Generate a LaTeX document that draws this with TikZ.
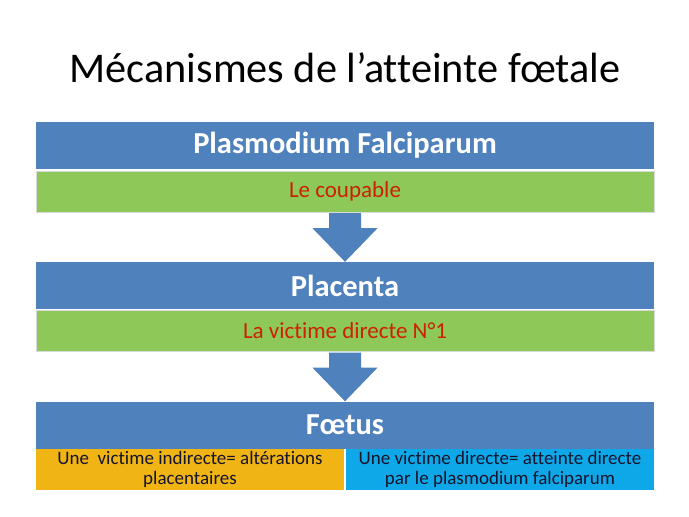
\documentclass[tikz,border=0pt]{standalone}
\usepackage{fontspec}
\setmainfont{Carlito}[Ligatures=NoCommon]
\usetikzlibrary{positioning,calc}
\definecolor{slideblue}{RGB}{79,129,189}
\definecolor{slidegreen}{RGB}{141,200,88}
\definecolor{slidered}{RGB}{204,34,0}
\definecolor{slideorange}{RGB}{240,180,21}
\definecolor{slidecyan}{RGB}{14,168,232}
\definecolor{slidetext}{RGB}{20,20,45}

\begin{document}
\begin{tikzpicture}[x=1pt,y=-1pt,
    headbar/.style={fill=slideblue, text=white, minimum width=618pt, minimum height=47pt,
      inner sep=0pt, font=\fontsize{30.5}{34}\selectfont\bfseries},
    rolebar/.style={fill=slidegreen, draw=white!85!black, text=slidered, minimum width=618pt,
      minimum height=41pt, inner sep=0pt, font=\fontsize{23}{27}\selectfont},
    halfbar/.style={minimum width=308pt, minimum height=41pt, inner sep=0pt, text=slidetext,
      align=center, font=\fontsize{19}{19.5}\selectfont},
    downarrow/.style={fill=slideblue}]
    \useasboundingbox[fill=white] (0,0) rectangle (689,517);
    \node[font=\fontsize{42.3}{48}\selectfont] (title) at (345,68) {Mécanismes de l’atteinte fœtale};
    \node[headbar] (parasite) at (345,145.5) {Plasmodium Falciparum};
    \node[rolebar] (culprit) at (345,191.5) {Le coupable};
    \node[headbar] (placenta) at (345,285.5) {Placenta};
    \node[rolebar] (victim) at (345,331) {La victime directe N°1};
    \node[headbar] (foetus) at (345,425) {Fœtus};
    \node[halfbar, fill=slideorange] (indirect) at (190,469.5) {Une\ \ victime indirecte= altérations\\placentaires};
    \node[halfbar, fill=slidecyan] (direct) at (500,469.5) {Une victime directe= atteinte directe\\par le plasmodium falciparum};
    % block arrows between the stages
    \foreach \from/\to in {culprit/placenta, victim/foetus}{
      \fill[downarrow] ($(\from.south)+(-16,1)$) -- ($(\from.south)+(16,1)$)
        -- ($(\from.south)+(16,16)$) -- ($(\from.south)+(32.5,16)$) -- (\to.north)
        -- ($(\from.south)+(-32.5,16)$) -- ($(\from.south)+(-16,16)$) -- cycle;
    }
\end{tikzpicture}
\end{document}
